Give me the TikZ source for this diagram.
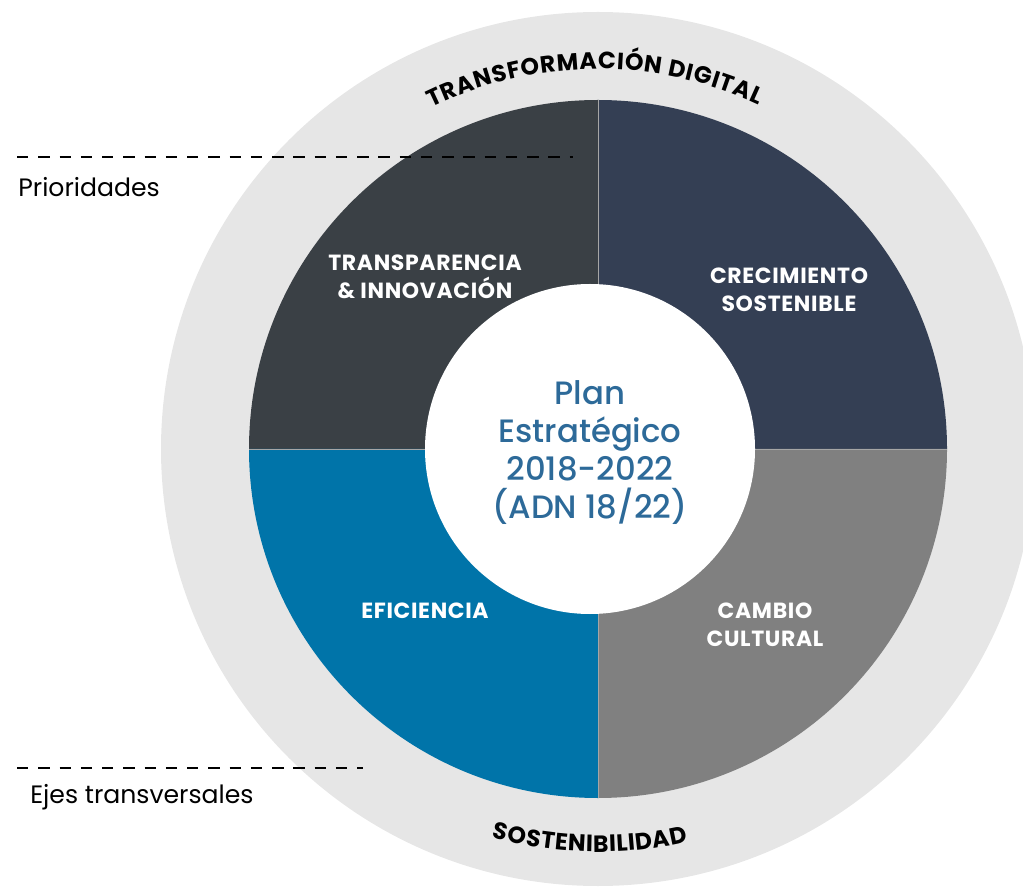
\documentclass[tikz,border=0pt]{standalone}
\usepackage{fontspec}
\setmainfont{Poppins}
\IfFontExistsTF{Poppins Medium}{\newfontfamily\planfont{Poppins Medium}}{\newfontfamily\planfont{Poppins}}
\usepackage{tikz}
\usetikzlibrary{decorations.text}
\definecolor{ringgray}{HTML}{E6E6E6}
\definecolor{qtl}{HTML}{3A4045}
\definecolor{qtr}{HTML}{343F54}
\definecolor{qbr}{HTML}{808080}
\definecolor{qbl}{HTML}{0074A9}
\definecolor{plantext}{HTML}{2D6A99}
\newcommand{\curvefont}{\bfseries\fontsize{13.4}{15}\selectfont}

\begin{document}
\begin{tikzpicture}[x=.02cm, y=.02cm,
  quadlabel/.style={text=white, font=\bfseries\fontsize{12.5}{15.9}\selectfont\addfontfeature{LetterSpace=3}, align=center},
  sidelabel/.style={font=\fontsize{14.3}{16}\selectfont, anchor=base west, inner sep=0pt},
  sepline/.style={dash pattern=on 6.5pt off 5.6pt, line width=1.3pt},
  quadedge/.style={draw=gray!70, line width=.5pt}]
\path[use as bounding box, clip] (0,0) rectangle (1023,886);
\coordinate (C) at (598,437);  % centre of the rings
\coordinate (W) at (590,437);  % centre of the white disc
\fill[ringgray] (C) circle[radius=437];
\foreach \a/\col in {0/qtr, 90/qtl, 180/qbl, 270/qbr}
  \fill[\col] (C) -- ++(\a:349) arc[start angle=\a, end angle=\a+90, radius=349] -- cycle;
\coordinate (qn) at (598,786); \coordinate (qs) at (598,88);
\coordinate (qw) at (249,437); \coordinate (qe) at (947,437);
\draw[quadedge] (qn) -- (qs);
\draw[quadedge] (qw) -- (qe);
\fill[white] (W) circle[radius=165];
% quadrant labels
\node[quadlabel] (transp) at (425,609) {TRANSPARENCIA\\\& INNOVACIÓN};
\node[quadlabel] (crec) at (789,596) {CRECIMIENTO\\SOSTENIBLE};
\node[quadlabel] (efic) at (425,275.5) {EFICIENCIA};
\node[quadlabel] (cambio) at (765,261.5) {CAMBIO\\CULTURAL};
\node[text=plantext, font=\planfont\fontsize{18.4}{21.8}\selectfont, align=center] (plan) at (590,433.5) {Plan\\Estratégico\\2018-2022\\(ADN 18/22)};
% texts along the outer ring
\coordinate (tdstart) at (431.4,778.5);
\coordinate (sostart) at (492.0,48.2);
\path[decorate, decoration={text along path, text align=fit to path, text={|\curvefont|TRANSFORMACIÓN DIGITAL}}]
  (tdstart) arc[start angle=116, end angle=65, radius=380];
\path[decorate, decoration={text along path, text align=fit to path, text={|\curvefont|SOSTENIBILIDAD}}]
  (sostart) arc[start angle=254.75, end angle=282.9, radius=403];
% dashed markers on the left
\coordinate (p0) at (17,729); \coordinate (p1) at (573,729);
\draw[sepline] (p0) -- (p1);
\node[sidelabel] (prio) at (18,689.3) {Prioridades};
\coordinate (e0) at (17,118); \coordinate (e1) at (363,118);
\draw[sepline] (e0) -- (e1);
\node[sidelabel] (ejes) at (30,82.7) {Ejes transversales};
\end{tikzpicture}
\end{document}
